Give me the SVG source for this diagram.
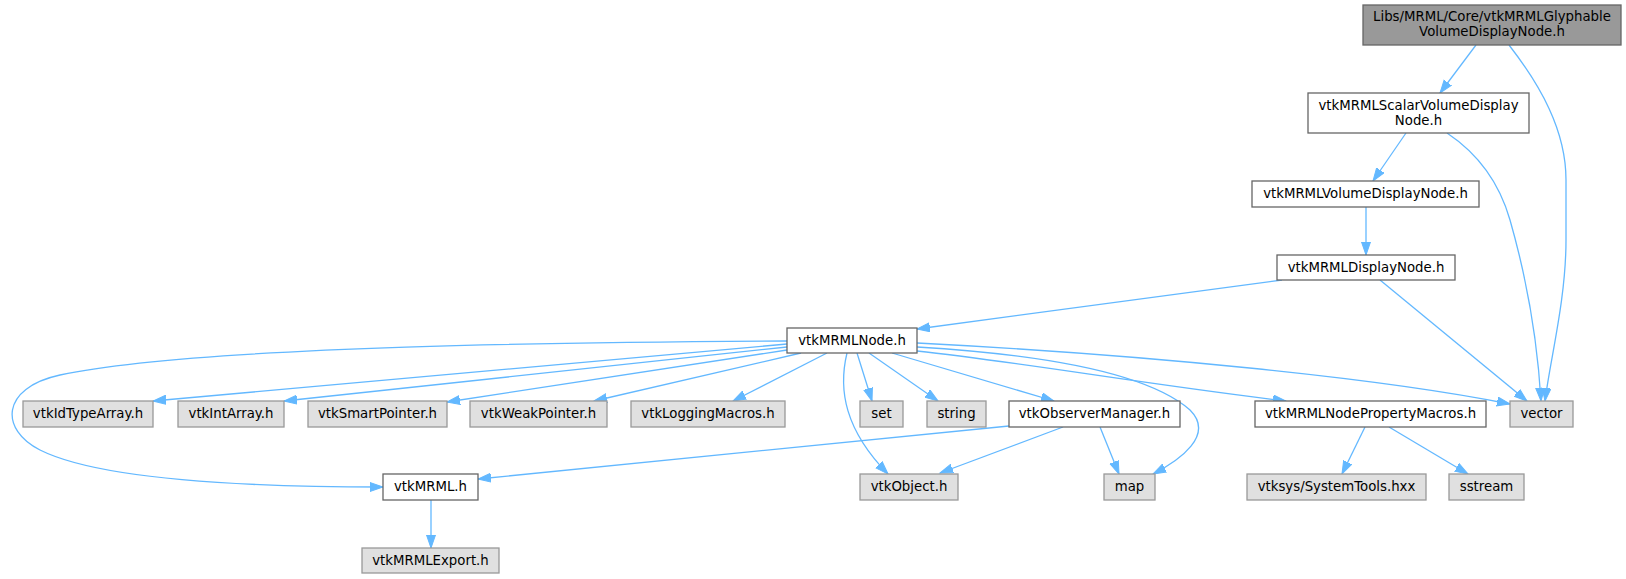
<svg xmlns="http://www.w3.org/2000/svg" width="1626" height="579" viewBox="0 0 1626 579">
<defs>
<marker id="ah" markerWidth="15" markerHeight="11" refX="13" refY="5" orient="auto" markerUnits="userSpaceOnUse"><path d="M0,0.5 L13,5 L0,9.5 z" fill="#63b8ff" stroke="#63b8ff" stroke-width="1"/></marker>
</defs>
<style>
.n rect{fill:#ffffff;stroke:#666666;stroke-width:1.3}
.m rect{fill:#999999;stroke:#666666;stroke-width:1.3}
.g rect{fill:#e0e0e0;stroke:#999999;stroke-width:1.3}
text{font-family:"DejaVu Sans","Liberation Sans",sans-serif;font-size:13.3px;fill:#000000;text-anchor:middle}
#edges path{fill:none;stroke:#63b8ff;stroke-width:1.3;marker-end:url(#ah)}
</style>
<rect width="1626" height="579" fill="#ffffff"/>
<g id="edges">
<path d="M1476,45 L1440,93"/>
<path d="M1509,45 C1540,85 1566,130 1566,180 L1566,240 C1566,300 1550,360 1545,401"/>
<path d="M1406,133 L1373,181"/>
<path d="M1447,133 C1480,155 1500,185 1510,220 C1530,290 1538,350 1541,401"/>
<path d="M1366,207 L1366,255"/>
<path d="M1282,280 L917,329"/>
<path d="M1380,280 L1527,401"/>
<path d="M917,343 C1150,355 1380,378 1510,404"/>
<path d="M917,351 C1020,362 1150,385 1286,401"/>
<path d="M917,347 C1050,355 1150,375 1190,410 C1215,435 1180,460 1153,474"/>
<path d="M892,353 L1054,401"/>
<path d="M869,353 L938,401"/>
<path d="M857,353 L872,401"/>
<path d="M847,353 C838,390 845,430 888,474"/>
<path d="M827,353 L733,401"/>
<path d="M801,353 L594,401"/>
<path d="M787,350 L447,402"/>
<path d="M787,347 L284,401"/>
<path d="M787,344 L153,401"/>
<path d="M787,341 C600,342 200,345 60,375 C0,388 0,430 40,450 C100,480 250,487 383,487"/>
<path d="M1009,426 L478,479"/>
<path d="M1063,427 L940,473"/>
<path d="M1100,427 L1119,474"/>
<path d="M1365,427 L1342,474"/>
<path d="M1389,427 L1468,474"/>
<path d="M431,500 L431,548"/>
</g>
<g id="node-main" class="m"><rect x="1363" y="5" width="258" height="40"/><text x="1492" y="21">Libs/MRML/Core/vtkMRMLGlyphable</text><text x="1492" y="36">VolumeDisplayNode.h</text></g>
<g id="node-scalar" class="n"><rect x="1308" y="93" width="221" height="40"/><text x="1418.5" y="110">vtkMRMLScalarVolumeDisplay</text><text x="1418.5" y="125">Node.h</text></g>
<g id="node-volumedisplay" class="n"><rect x="1252" y="181" width="227" height="26"/><text x="1365.5" y="198">vtkMRMLVolumeDisplayNode.h</text></g>
<g id="node-display" class="n"><rect x="1277" y="255" width="178" height="25"/><text x="1366" y="272">vtkMRMLDisplayNode.h</text></g>
<g id="node-mrmlnode" class="n"><rect x="787" y="328" width="130" height="25"/><text x="852" y="345">vtkMRMLNode.h</text></g>
<g id="node-idtypearray" class="g"><rect x="23" y="401" width="130" height="26"/><text x="88" y="418">vtkIdTypeArray.h</text></g>
<g id="node-intarray" class="g"><rect x="178" y="401" width="106" height="26"/><text x="231" y="418">vtkIntArray.h</text></g>
<g id="node-smartpointer" class="g"><rect x="308" y="401" width="139" height="26"/><text x="377.5" y="418">vtkSmartPointer.h</text></g>
<g id="node-weakpointer" class="g"><rect x="470" y="401" width="137" height="26"/><text x="538.5" y="418">vtkWeakPointer.h</text></g>
<g id="node-loggingmacros" class="g"><rect x="631" y="401" width="154" height="26"/><text x="708" y="418">vtkLoggingMacros.h</text></g>
<g id="node-set" class="g"><rect x="860" y="401" width="43" height="26"/><text x="881.5" y="418">set</text></g>
<g id="node-string" class="g"><rect x="927" y="401" width="59" height="26"/><text x="956.5" y="418">string</text></g>
<g id="node-observermanager" class="n"><rect x="1009" y="401" width="171" height="26"/><text x="1094.5" y="418">vtkObserverManager.h</text></g>
<g id="node-propertymacros" class="n"><rect x="1255" y="401" width="231" height="26"/><text x="1370.5" y="418">vtkMRMLNodePropertyMacros.h</text></g>
<g id="node-vector" class="g"><rect x="1510" y="401" width="63" height="26"/><text x="1541.5" y="418">vector</text></g>
<g id="node-vtkmrml" class="n"><rect x="383" y="474" width="95" height="26"/><text x="430.5" y="491">vtkMRML.h</text></g>
<g id="node-vtkobject" class="g"><rect x="860" y="474" width="98" height="26"/><text x="909" y="491">vtkObject.h</text></g>
<g id="node-map" class="g"><rect x="1104" y="474" width="51" height="26"/><text x="1129.5" y="491">map</text></g>
<g id="node-systemtools" class="g"><rect x="1247" y="474" width="179" height="26"/><text x="1336.5" y="491">vtksys/SystemTools.hxx</text></g>
<g id="node-sstream" class="g"><rect x="1449" y="474" width="75" height="26"/><text x="1486.5" y="491">sstream</text></g>
<g id="node-export" class="g"><rect x="362" y="548" width="137" height="25"/><text x="430.5" y="565">vtkMRMLExport.h</text></g>
</svg>
